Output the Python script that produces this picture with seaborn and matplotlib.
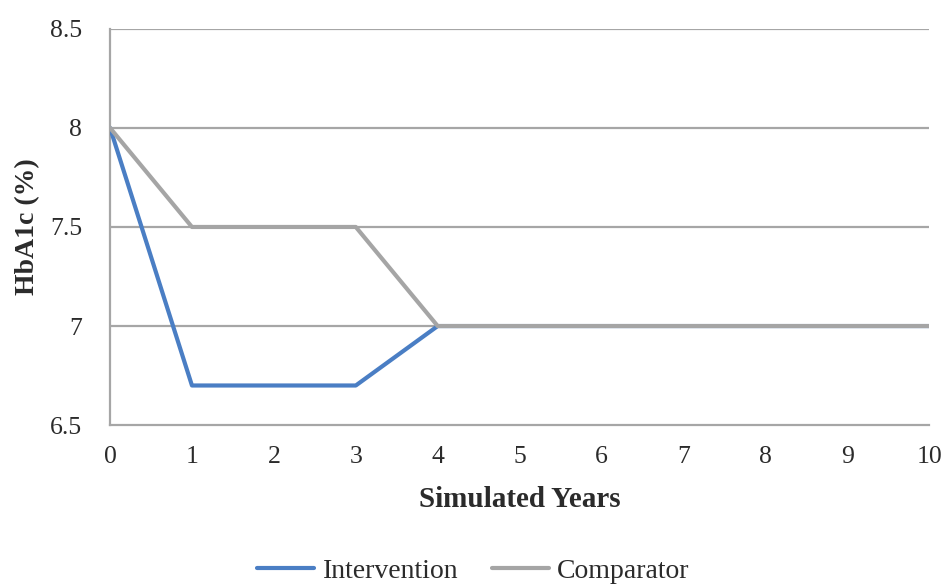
import matplotlib
matplotlib.use("Agg")
import matplotlib.pyplot as plt
import seaborn as sns
import pandas as pd

years = [0, 1, 2, 3, 4, 5, 6, 7, 8, 9, 10]
intervention = [8.0, 6.7, 6.7, 6.7, 7.0, 7.0, 7.0, 7.0, 7.0, 7.0, 7.0]
comparator = [8.0, 7.5, 7.5, 7.5, 7.0, 7.0, 7.0, 7.0, 7.0, 7.0, 7.0]
series_names = ["Intervention", "Comparator"]
y_ticks = [6.5, 7, 7.5, 8, 8.5]
y_tick_labels = ["6.5", "7", "7.5", "8", "8.5"]

sns.set_style("white")
plt.rcParams["font.family"] = ["Liberation Serif", "DejaVu Serif"]

df = pd.DataFrame({
    "Simulated Years": years * 2,
    "HbA1c": intervention + comparator,
    "Series": [series_names[0]] * len(years) + [series_names[1]] * len(years),
})

fig = plt.figure(figsize=(9.47, 5.88), dpi=100)
ax = fig.add_axes([0.1162, 0.277, 0.865, 0.674])

grid_color = "#A6A6A6"
text_color = "#2B2B2B"
for y in y_ticks[1:]:
    ax.axhline(y, color=grid_color, lw=1.6, zorder=1)

sns.lineplot(
    data=df, x="Simulated Years", y="HbA1c", hue="Series",
    hue_order=series_names,
    palette={"Intervention": "#4A7EC4", "Comparator": "#A5A5A5"},
    linewidth=3.0, ax=ax, zorder=3, legend=True,
)

ax.set_xlim(0, 10)
ax.set_ylim(6.5, 8.5)
ax.set_xticks(years)
ax.set_xticklabels([str(v) for v in years], fontsize=18.5, color=text_color)
ax.set_yticks(y_ticks)
ax.set_yticklabels(y_tick_labels, fontsize=18.5, color=text_color)
ax.tick_params(axis="y", length=6, width=1.6, color=grid_color, pad=14)
ax.tick_params(axis="x", length=0, pad=15)

for side in ["top", "right"]:
    ax.spines[side].set_visible(False)
for side in ["left", "bottom"]:
    ax.spines[side].set_color(grid_color)
    ax.spines[side].set_linewidth(1.6)
    ax.spines[side].set_zorder(2)

ax.set_xlabel("Simulated Years", fontsize=21, fontweight="bold", color=text_color, labelpad=13)
ax.set_ylabel("HbA1c (%)", fontsize=20, fontweight="bold", color=text_color, labelpad=7)

handles, labels = ax.get_legend_handles_labels()
ax.legend(
    handles, labels, loc="center", bbox_to_anchor=(0.5, 1 - 571 / 588),
    bbox_transform=fig.transFigure, ncol=2, frameon=False,
    fontsize=20, handlelength=2.05, columnspacing=1.2, handletextpad=0.3,
    labelcolor=text_color, borderpad=0.1,
)

fig.savefig("out.png", dpi=100)
